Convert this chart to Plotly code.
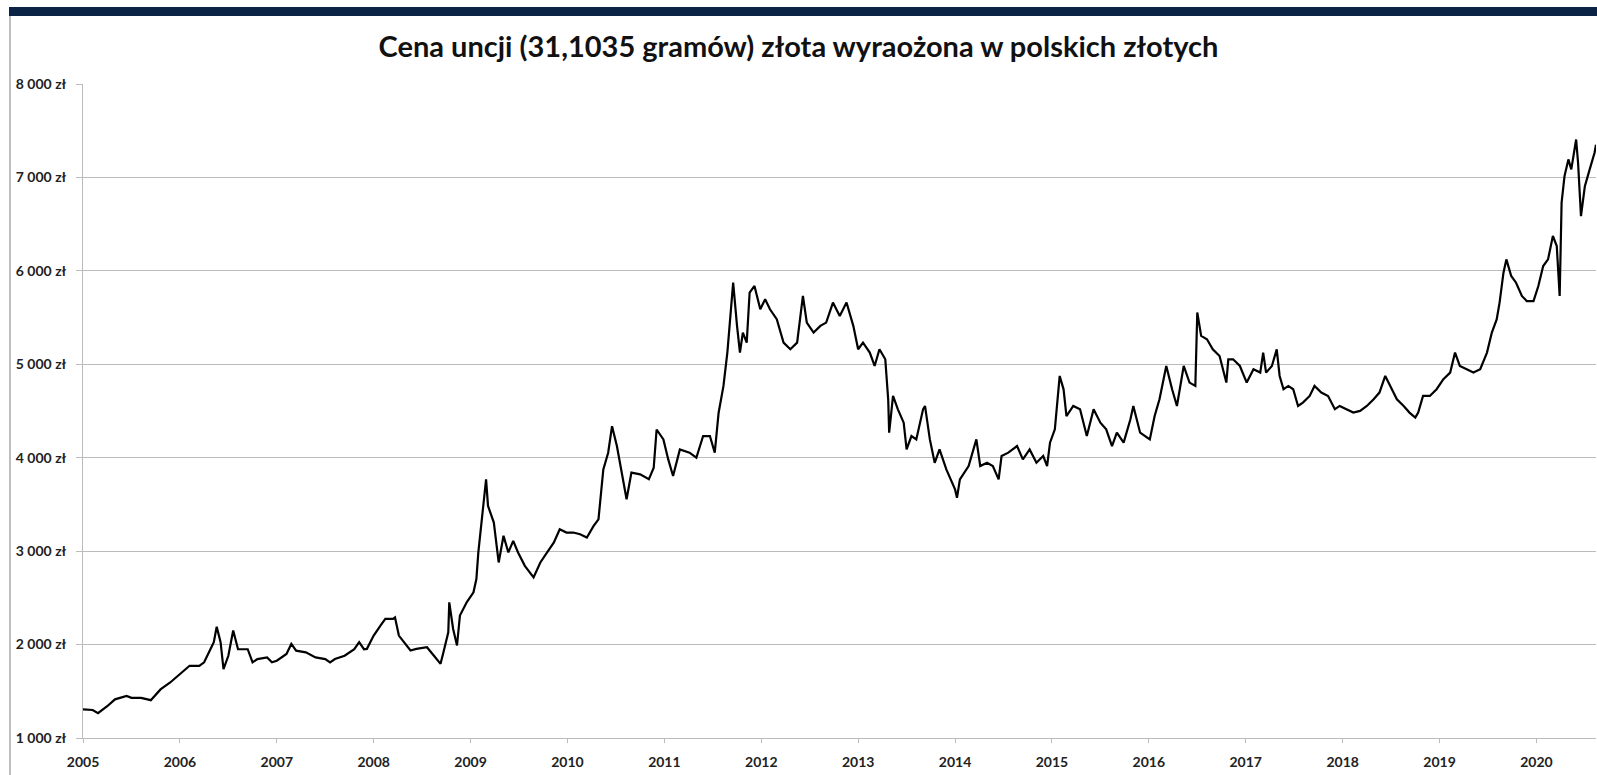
import plotly.graph_objects as go

# decimal year, price in PLN per ounce
years = [
    2005.00, 2005.10, 2005.155, 2005.25, 2005.33, 2005.45, 2005.50, 2005.60, 2005.70, 2005.80,
    2005.90, 2006.00, 2006.10, 2006.20, 2006.25, 2006.30, 2006.35, 2006.38, 2006.42, 2006.45,
    2006.50, 2006.55, 2006.60, 2006.70, 2006.75, 2006.80, 2006.90, 2006.95, 2007.00, 2007.10,
    2007.15, 2007.20, 2007.30, 2007.40, 2007.50, 2007.55, 2007.60, 2007.70, 2007.80, 2007.85,
    2007.90, 2007.93, 2008.00, 2008.07, 2008.12, 2008.20, 2008.22, 2008.26, 2008.31, 2008.38,
    2008.44, 2008.55, 2008.62, 2008.69, 2008.72, 2008.77, 2008.78, 2008.82, 2008.86, 2008.89,
    2008.96, 2009.03, 2009.06, 2009.08, 2009.12, 2009.16, 2009.18, 2009.24, 2009.29, 2009.34,
    2009.39, 2009.44, 2009.49, 2009.56, 2009.65, 2009.72, 2009.79, 2009.86, 2009.92, 2009.99,
    2010.06, 2010.13, 2010.20, 2010.27, 2010.32, 2010.37, 2010.42, 2010.46, 2010.51, 2010.56,
    2010.61, 2010.66, 2010.75, 2010.84, 2010.89, 2010.92, 2010.99, 2011.04, 2011.09, 2011.16,
    2011.26, 2011.33, 2011.40, 2011.47, 2011.52, 2011.56, 2011.61, 2011.65, 2011.68, 2011.71,
    2011.75, 2011.78, 2011.81, 2011.85, 2011.88, 2011.93, 2011.99, 2012.04, 2012.09, 2012.16,
    2012.23, 2012.30, 2012.37, 2012.43, 2012.47, 2012.54, 2012.61, 2012.67, 2012.74, 2012.81,
    2012.88, 2012.95, 2013.00, 2013.05, 2013.12, 2013.17, 2013.22, 2013.28, 2013.31, 2013.32,
    2013.36, 2013.41, 2013.47, 2013.50, 2013.55, 2013.60, 2013.67, 2013.69, 2013.74, 2013.79,
    2013.84, 2013.91, 2014.00, 2014.02, 2014.05, 2014.14, 2014.22, 2014.26, 2014.33, 2014.39,
    2014.45, 2014.48, 2014.55, 2014.64, 2014.70, 2014.77, 2014.84, 2014.91, 2014.95, 2014.98,
    2015.03, 2015.08, 2015.12, 2015.15, 2015.22, 2015.29, 2015.36, 2015.43, 2015.50, 2015.56,
    2015.62, 2015.67, 2015.74, 2015.81, 2015.84, 2015.91, 2016.01, 2016.06, 2016.11, 2016.18,
    2016.24, 2016.29, 2016.36, 2016.42, 2016.48, 2016.50, 2016.54, 2016.60, 2016.66, 2016.73,
    2016.80, 2016.82, 2016.87, 2016.94, 2017.01, 2017.08, 2017.15, 2017.18, 2017.21, 2017.27,
    2017.32, 2017.35, 2017.39, 2017.44, 2017.49, 2017.54, 2017.59, 2017.66, 2017.71, 2017.78,
    2017.85, 2017.92, 2017.97, 2018.04, 2018.11, 2018.18, 2018.25, 2018.32, 2018.38, 2018.44,
    2018.49, 2018.56, 2018.63, 2018.69, 2018.75, 2018.78, 2018.83, 2018.90, 2018.97, 2019.04,
    2019.11, 2019.16, 2019.21, 2019.28, 2019.35, 2019.42, 2019.49, 2019.54, 2019.59, 2019.62,
    2019.66, 2019.69, 2019.74, 2019.79, 2019.85, 2019.90, 2019.97, 2020.02, 2020.07, 2020.12,
    2020.17, 2020.21, 2020.24, 2020.26, 2020.29, 2020.33, 2020.36, 2020.41, 2020.43, 2020.46,
    2020.50, 2020.55, 2020.60, 2020.615,
]

prices = [
    1306, 1300, 1265, 1340, 1414, 1450, 1430, 1430, 1405, 1520,
    1594, 1683, 1773, 1773, 1810, 1917, 2025, 2190, 2025, 1737,
    1880, 2150, 1950, 1950, 1810, 1845, 1863, 1810, 1827, 1900,
    2007, 1935, 1917, 1863, 1845, 1810, 1845, 1880, 1950, 2025,
    1950, 1954, 2096, 2203, 2274, 2274, 2290, 2096, 2025, 1936,
    1954, 1972, 1883, 1794, 1918, 2132, 2452, 2167, 1990, 2310,
    2452, 2559, 2701, 2986, 3377, 3769, 3484, 3306, 2879, 3164,
    2986, 3110, 2986, 2843, 2719, 2879, 2986, 3093, 3235, 3199,
    3199, 3181, 3146, 3270, 3341, 3875, 4053, 4338, 4125, 3840,
    3555, 3840, 3822, 3769, 3893, 4302, 4196, 3982, 3804, 4089,
    4054, 4000, 4232, 4232, 4054, 4482, 4768, 5125, 5482, 5875,
    5411, 5125, 5339, 5232, 5768, 5839, 5589, 5696, 5589, 5482,
    5232, 5161, 5232, 5732, 5446, 5339, 5411, 5446, 5661, 5518,
    5661, 5411, 5161, 5232, 5125, 4982, 5161, 5054, 4625, 4268,
    4661, 4518, 4375, 4089, 4232, 4196, 4518, 4554, 4196, 3946,
    4089, 3875, 3661, 3571, 3768, 3911, 4196, 3911, 3946, 3911,
    3768, 4018, 4054, 4125, 3982, 4089, 3946, 4018, 3911, 4161,
    4304, 4875, 4732, 4446, 4554, 4518, 4232, 4518, 4375, 4304,
    4125, 4268, 4161, 4411, 4554, 4268, 4196, 4446, 4625, 4982,
    4732, 4554, 4982, 4804, 4768, 5554, 5304, 5268, 5160, 5089,
    4804, 5053, 5053, 4982, 4804, 4947, 4911, 5125, 4911, 4982,
    5160, 4875, 4733, 4768, 4733, 4554, 4590, 4661, 4768, 4697,
    4661, 4519, 4554, 4519, 4483, 4501, 4554, 4626, 4697, 4875,
    4768, 4626, 4554, 4483, 4430, 4483, 4661, 4661, 4733, 4840,
    4911, 5125, 4982, 4947, 4911, 4947, 5125, 5339, 5481, 5660,
    5980, 6123, 5945, 5873, 5731, 5677, 5677, 5838, 6052, 6123,
    6373, 6266, 5731, 6730, 7014, 7193, 7086, 7406, 7157, 6586,
    6907, 7086, 7264, 7350,
]

x_tick_years = list(range(2005, 2021))
x_tick_labels = [str(y) for y in x_tick_years]
y_tick_vals = [1000, 2000, 3000, 4000, 5000, 6000, 7000, 8000]
y_tick_labels = ["1 000 zł", "2 000 zł", "3 000 zł", "4 000 zł",
                 "5 000 zł", "6 000 zł", "7 000 zł", "8 000 zł"]

title_text = "Cena uncji (31,1035 gramów) złota wyraożona w polskich złotych"

W, H = 1597, 775
L, R, T, B = 83, 1, 84, 37
pw, ph = W - L - R, H - T - B

fig = go.Figure()
fig.add_trace(go.Scatter(
    x=years, y=prices, mode="lines",
    line=dict(color="#000000", width=2.2),
    hoverinfo="x+y", showlegend=False,
))

grid = "#bcbcbc"
fig.update_layout(
    width=W, height=H,
    margin=dict(l=L, r=R, t=T, b=B, pad=0, autoexpand=False),
    paper_bgcolor="white", plot_bgcolor="white",
    font=dict(family="Lato, 'Open Sans', sans-serif", color="#222222"),
    title=dict(text="<b>" + title_text + "</b>", x=0.5, xanchor="center",
               y=1 - 47 / H, yanchor="middle",
               font=dict(size=29, color="#111111", family="Lato, sans-serif")),
    xaxis=dict(
        range=[2005, 2020.615], tickmode="array",
        tickvals=x_tick_years, ticktext=["<b>%s</b>" % t for t in x_tick_labels],
        showgrid=False, zeroline=False,
        showline=True, linecolor=grid, linewidth=1,
        ticks="outside", ticklen=4, tickcolor=grid,
        ticklabelstandoff=7,
        tickfont=dict(size=14, color="#222222"),
    ),
    yaxis=dict(
        range=[1000, 8000], tickmode="array",
        tickvals=y_tick_vals, ticktext=["<b>%s</b>" % t for t in y_tick_labels],
        showgrid=True, gridcolor=grid, gridwidth=1, zeroline=False,
        showline=True, linecolor=grid, linewidth=1,
        ticks="outside", ticklen=6, tickcolor=grid,
        ticklabelstandoff=7,
        tickfont=dict(size=14, color="#222222"),
    ),
)

# top navy band and left frame line
fig.add_shape(type="rect", xref="paper", yref="paper",
              x0=(9 - L) / pw, x1=(W - L) / pw,
              y0=(H - B - 16) / ph, y1=(H - B - 7) / ph,
              fillcolor="#0b2344", line=dict(width=0), layer="above")
fig.add_shape(type="line", xref="paper", yref="paper",
              x0=(10 - L) / pw, x1=(10 - L) / pw,
              y0=(H - B - 16) / ph, y1=(H - B - H) / ph,
              line=dict(color="#a8a8a8", width=1.5))

fig.write_html("out.html",
               config={"displayModeBar": False},
               post_script="document.body.style.margin='0';document.body.style.overflow='hidden';")
